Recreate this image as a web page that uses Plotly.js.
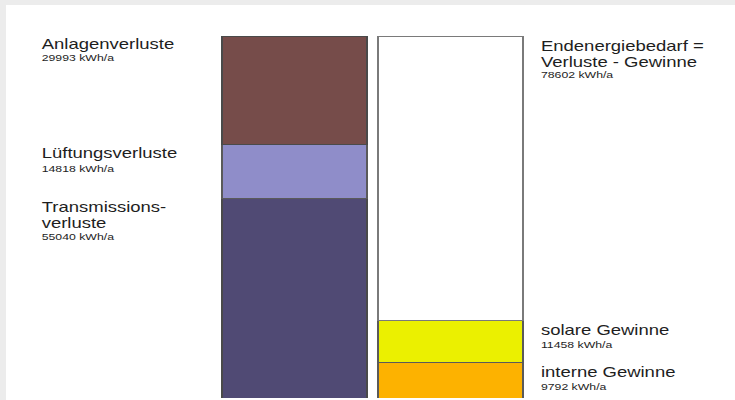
<!DOCTYPE html>
<html>
<head>
<meta charset="utf-8">
<script src="https://cdn.plot.ly/plotly-3.0.1.min.js"></script>
<style>
  html, body { margin: 0; padding: 0; }
  body { background: #ececec; width: 735px; height: 400px; overflow: hidden; position: relative; }
  #card { position: absolute; left: 6px; top: 5px; width: 729px; height: 395px; background: #ffffff; overflow: hidden; }
  #plot { width: 552px; height: 395px; transform: scaleX(1.3207); transform-origin: 0 0; }
</style>
</head>
<body>
<div id="card"><div id="plot"></div></div>
<script>
// ---- data ----
const categories = [0, 1]; // 0 = Verluste (links), 1 = Gewinne (rechts)
const lossLabels = ['Transmissions-<br>verluste', 'Lüftungsverluste', 'Anlagenverluste'];
const lossValues = [55040, 14818, 29993];
const gainLabels = ['interne Gewinne', 'solare Gewinne', 'Endenergiebedarf =<br>Verluste - Gewinne'];
const gainValues = [9792, 11458, 78602];
const unit = 'kWh/a';

// ---- styles ----
const lossColors = ['#504a74', '#8f8dc9', '#764c4a'];
const gainColors = ['#fdb200', '#ebf000', '#ffffff'];
const lossLines = ['#4a4a4a', '#5a5a5a', '#4a4a4a'];
const gainLines = ['#5a5a5a', '#5a5a5a', '#7a7a7a'];
// vertical offsets (px) of the title top / value top below the segment top
const lossTitleOff = [3.0, 3.2, 2.6];
const gainTitleOff = [3.8, 3.6, 4.4];
const lossValueOff = [35, 20.6, 18.4];
const gainValueOff = [21.3, 21.0, 35.2];
const lineGap = 15.8;

const traces = [];
const annotations = [];
const txtColor = '#1e1e1e';
const titleFont = { family: 'Liberation Sans, Arial, sans-serif', size: 14, color: txtColor };
const valueFont = { family: 'Liberation Sans, Arial, sans-serif', size: 9.3, color: txtColor };

function addSide(xCat, labels, values, colors, lines, titleOffs, valueOffs, paperX) {
  let cum = 0;
  labels.forEach((lab, i) => {
    traces.push({
      type: 'bar', x: [categories[xCat]], y: [values[i]], width: 0.929,
      marker: { color: colors[i], line: { color: lines[i], width: 1 } },
      hoverinfo: 'skip', showlegend: false
    });
    cum += values[i];
    const parts = lab.split('<br>');
    parts.forEach((p, k) => {
      const off = titleOffs[i] + k * lineGap;
      annotations.push({
        xref: 'paper', yref: 'y', x: paperX, y: cum, xanchor: 'left', yanchor: 'top',
        text: p, showarrow: false, font: titleFont, yshift: -(off - 4.6)
      });
    });
    annotations.push({
      xref: 'paper', yref: 'y', x: paperX, y: cum, xanchor: 'left', yanchor: 'top',
      text: values[i] + ' ' + unit, showarrow: false, font: valueFont, yshift: -(valueOffs[i] - 3.7)
    });
  });
}

addSide(0, lossLabels, lossValues, lossColors, lossLines, lossTitleOff, lossValueOff, 0.0458);
addSide(1, gainLabels, gainValues, gainColors, gainLines, gainTitleOff, gainValueOff, 0.7303);

const total = Math.max(lossValues.reduce((a, b) => a + b, 0), gainValues.reduce((a, b) => a + b, 0));

const layout = {
  width: 552, height: 395,
  margin: { l: 0, r: 0, t: 31, b: 2, pad: 0 },
  paper_bgcolor: '#ffffff', plot_bgcolor: '#ffffff',
  barmode: 'stack', bargap: 0,
  xaxis: { visible: false, range: [-1.8477, 2.8223], fixedrange: true },
  yaxis: { visible: false, range: [0, total], fixedrange: true },
  annotations: annotations,
  showlegend: false
};

Plotly.newPlot('plot', traces, layout, { staticPlot: true, displayModeBar: false });
</script>
</body>
</html>
